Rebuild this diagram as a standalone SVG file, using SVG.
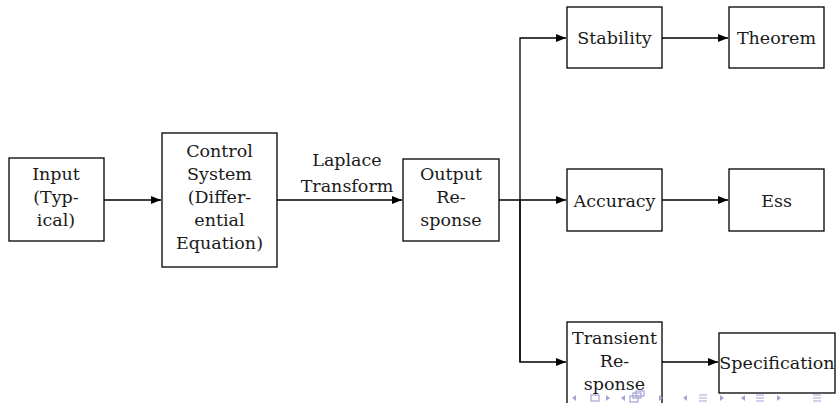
<svg xmlns="http://www.w3.org/2000/svg" width="839" height="403" viewBox="0 0 839 403">
<style>
.box{fill:#fff;stroke:#000;stroke-width:1.3}
.t{font-family:'DejaVu Serif','Noto Serif',serif;font-size:17.5px;fill:#1a1a1a;text-anchor:middle}
.cn{fill:none;stroke:#000;stroke-width:1.3}
.nav{fill:#a3a3d6;stroke:none}
.navs{fill:none;stroke:#a3a3d6;stroke-width:1.2}
</style>
<defs>
<marker id="ah" viewBox="0 0 10 8" refX="10" refY="4" markerWidth="10" markerHeight="8" markerUnits="userSpaceOnUse" orient="auto">
<path d="M0,0 L10,4 L0,8 z" fill="#000"/>
</marker>
</defs>
<g id="connectors">
<line class="cn" x1="104" y1="200" x2="161" y2="200" marker-end="url(#ah)"/>
<line class="cn" x1="277" y1="200" x2="402" y2="200" marker-end="url(#ah)"/>
<line class="cn" x1="499" y1="200" x2="566" y2="200" marker-end="url(#ah)"/>
<polyline class="cn" points="520,362 520,38 566,38" marker-end="url(#ah)"/>
<polyline class="cn" points="520,200 520,362 566,362" marker-end="url(#ah)"/>
<line class="cn" x1="662" y1="38" x2="728" y2="38" marker-end="url(#ah)"/>
<line class="cn" x1="662" y1="200" x2="728" y2="200" marker-end="url(#ah)"/>
<line class="cn" x1="662" y1="362" x2="718" y2="362" marker-end="url(#ah)"/>
<g id="laplace-label">
<text class="t" x="347" y="166">Laplace</text>
<text class="t" x="347" y="192">Transform</text>
</g>
</g>
<g id="input">
<rect class="box" x="9" y="158" width="95" height="83"/>
<text class="t" x="56" y="180">Input</text>
<text class="t" x="56" y="203">(Typ-</text>
<text class="t" x="56" y="226">ical)</text>
</g>
<g id="control">
<rect class="box" x="162" y="133" width="115" height="134"/>
<text class="t" x="219.5" y="157">Control</text>
<text class="t" x="219.5" y="180">System</text>
<text class="t" x="219.5" y="203">(Differ-</text>
<text class="t" x="219.5" y="226">ential</text>
<text class="t" x="219.5" y="249">Equation)</text>
</g>
<g id="output">
<rect class="box" x="403" y="159" width="96" height="82"/>
<text class="t" x="451" y="180">Output</text>
<text class="t" x="451" y="203">Re-</text>
<text class="t" x="451" y="226">sponse</text>
</g>
<g id="stability">
<rect class="box" x="567" y="7" width="95" height="61"/>
<text class="t" x="614.5" y="44">Stability</text>
</g>
<g id="theorem">
<rect class="box" x="729" y="7" width="95" height="61"/>
<text class="t" x="776.5" y="44">Theorem</text>
</g>
<g id="accuracy">
<rect class="box" x="567" y="169" width="95" height="62"/>
<text class="t" x="614.5" y="207">Accuracy</text>
</g>
<g id="ess">
<rect class="box" x="729" y="169" width="95" height="62"/>
<text class="t" x="776.5" y="207">Ess</text>
</g>
<g id="transient">
<rect class="box" x="567" y="322" width="95" height="84"/>
<text class="t" x="614.5" y="344">Transient</text>
<text class="t" x="614.5" y="367">Re-</text>
<text class="t" x="614.5" y="390">sponse</text>
</g>
<g id="specification">
<rect class="box" x="719" y="333" width="116" height="60"/>
<text class="t" x="777" y="369">Specification</text>
</g>
<g id="navigation">
<path class="nav" d="M576,395 L572,398 L576,401 z"/>
<rect class="navs" x="591" y="395" width="8" height="6"/>
<path class="nav" d="M606,395 L610,398 L606,401 z"/>
<path class="nav" d="M625,395 L621,398 L625,401 z"/>
<rect class="navs" x="636" y="391" width="8" height="5"/>
<rect class="navs" x="633" y="393" width="8" height="5"/>
<rect class="navs" x="630" y="396" width="8" height="6"/>
<path class="nav" d="M659,395 L663,398 L659,401 z"/>
<path class="nav" d="M687,395 L683,398 L687,401 z"/>
<path class="navs" d="M699,395 h8 M699,398 h8 M699,401 h8"/>
<path class="nav" d="M720,395 L724,398 L720,401 z"/>
<path class="nav" d="M745,395 L741,398 L745,401 z"/>
<path class="navs" d="M756,395 h8 M756,398 h8 M756,401 h8"/>
<path class="nav" d="M777,395 L781,398 L777,401 z"/>
<path class="navs" d="M813,395 h8 M813,398 h8 M813,401 h8"/>
</g>
</svg>
